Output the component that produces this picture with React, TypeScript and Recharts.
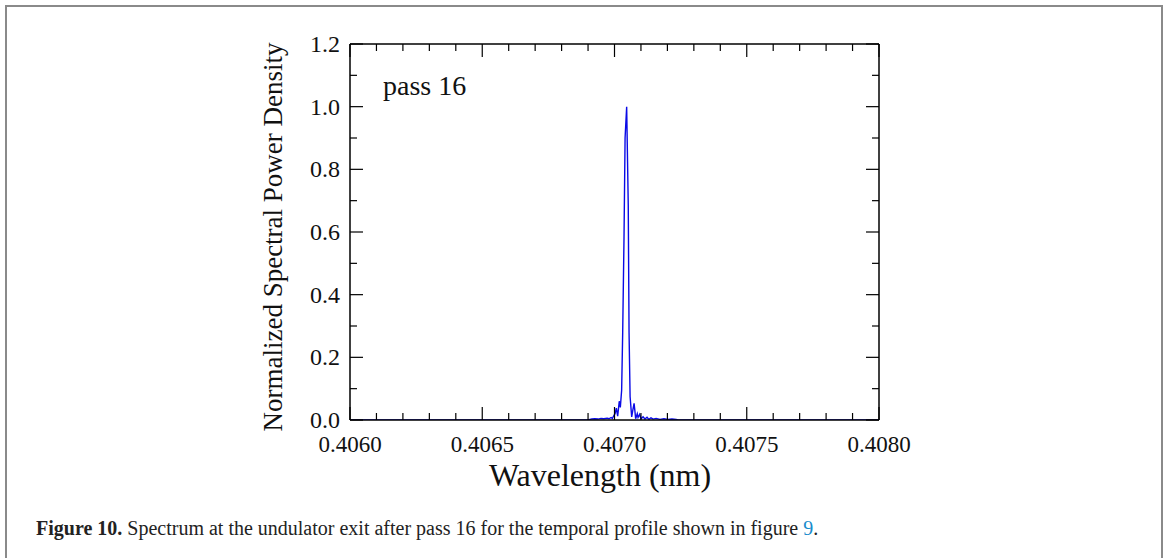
import { Line, LineChart, ReferenceLine, XAxis, YAxis } from "recharts";

// spectrum samples (pass 16)
const wavelength = [
  0.406, 0.4069, 0.406914, 0.406926, 0.406938, 0.406949, 0.40696, 0.406972,
  0.406979, 0.406987, 0.406992, 0.406996, 0.407002, 0.407007, 0.407012,
  0.407018, 0.407022, 0.407027, 0.407031, 0.407036, 0.40704, 0.407046,
  0.407052, 0.407055, 0.407059, 0.407065, 0.407069, 0.407074, 0.407077,
  0.40708, 0.407086, 0.407089, 0.407095, 0.4071, 0.407108, 0.407115,
  0.407123, 0.40713, 0.407138, 0.407146, 0.407157, 0.407172, 0.407187,
  0.407202, 0.407217, 0.407233, 0.40724, 0.408,
];
const power = [
  0, 0, 0.003, 0.004, 0.003, 0.005, 0.004, 0.006,
  0.004, 0.008, 0.005, 0.012, 0.02, 0.038, 0.012,
  0.06, 0.04, 0.095, 0.28, 0.585, 0.9, 1.0,
  0.686, 0.28, 0.074, 0.01, 0.03, 0.053, 0.03,
  0.004, 0.02, 0.008, 0.018, 0.004, 0.01, 0.003,
  0.009, 0.002, 0.007, 0.003, 0.005, 0.002, 0.004,
  0.002, 0.003, 0.002, 0, 0,
];

const xTicks = [
  0.406, 0.4061, 0.4062, 0.4063, 0.4064, 0.4065, 0.4066, 0.4067, 0.4068,
  0.4069, 0.407, 0.4071, 0.4072, 0.4073, 0.4074, 0.4075, 0.4076, 0.4077,
  0.4078, 0.4079, 0.408,
];
const yTicks = [0, 0.1, 0.2, 0.3, 0.4, 0.5, 0.6, 0.7, 0.8, 0.9, 1.0, 1.1, 1.2];

const data = wavelength.map((w, i) => ({ w, p: power[i] }));

const PLOT_LEFT = 350;
const PLOT_RIGHT = 879;
const PLOT_TOP = 44;
const PLOT_BOTTOM = 420;
const MAJOR = 13;
const MINOR = 7;
const serif = '"Liberation Serif", "Times New Roman", serif';

function XTick(props: any) {
  const { x, payload } = props;
  const idx = Math.round((payload.value - 0.406) / 0.0001);
  const major = idx % 5 === 0;
  const len = major ? MAJOR : MINOR;
  return (
    <g>
      <line x1={x} x2={x} y1={PLOT_BOTTOM} y2={PLOT_BOTTOM - len} stroke="#000" strokeWidth={1.2} />
      <line x1={x} x2={x} y1={PLOT_TOP} y2={PLOT_TOP + len} stroke="#000" strokeWidth={1.2} />
      {major && (
        <text x={x} y={PLOT_BOTTOM + 32} textAnchor="middle" fontFamily={serif} fontSize={23} fill="#111">
          {payload.value.toFixed(4)}
        </text>
      )}
    </g>
  );
}

function YTick(props: any) {
  const { y, payload } = props;
  const idx = Math.round(payload.value * 10);
  const major = idx % 2 === 0;
  const len = major ? MAJOR : MINOR;
  return (
    <g>
      <line x1={PLOT_LEFT} x2={PLOT_LEFT + len} y1={y} y2={y} stroke="#000" strokeWidth={1.2} />
      <line x1={PLOT_RIGHT} x2={PLOT_RIGHT - len} y1={y} y2={y} stroke="#000" strokeWidth={1.2} />
      {major && (
        <text x={PLOT_LEFT - 10} y={y + 8} textAnchor="end" fontFamily={serif} fontSize={24} fill="#111">
          {payload.value.toFixed(1)}
        </text>
      )}
    </g>
  );
}

export default function App() {
  return (
    <div
      style={{
        position: "absolute",
        left: 0,
        top: 0,
        width: 1165,
        height: 558,
        overflow: "hidden",
        background: "#fff",
      }}
    >
      <div
        style={{
          position: "absolute",
          left: 5,
          top: 5,
          width: 1154,
          height: 600,
          border: "2px solid #8a8a8a",
        }}
      />
      <div style={{ position: "absolute", left: 0, top: 0 }}>
        <LineChart
          width={1165}
          height={500}
          data={data}
          margin={{ top: PLOT_TOP, right: 1165 - PLOT_RIGHT, bottom: 40, left: PLOT_LEFT - 60 }}
        >
          <XAxis
            dataKey="w"
            type="number"
            domain={[0.406, 0.408]}
            ticks={xTicks}
            interval={0}
            allowDataOverflow
            height={40}
            tickLine={false}
            tickSize={0}
            axisLine={{ stroke: "#000", strokeWidth: 1.5 }}
            tick={<XTick />}
          />
          <YAxis
            type="number"
            domain={[0, 1.2]}
            ticks={yTicks}
            interval={0}
            allowDataOverflow
            width={60}
            tickLine={false}
            tickSize={0}
            axisLine={{ stroke: "#000", strokeWidth: 1.5 }}
            tick={<YTick />}
          />
          <ReferenceLine y={1.2} stroke="#000" strokeWidth={1.5} />
          <ReferenceLine x={0.408} stroke="#000" strokeWidth={1.5} />
          <Line
            dataKey="p"
            type="linear"
            stroke="#0a0ae6"
            strokeWidth={1.4}
            dot={false}
            isAnimationActive={false}
          />
        </LineChart>
      </div>
      <div
        style={{
          position: "absolute",
          left: 383,
          top: 70,
          fontFamily: serif,
          fontSize: 28,
          color: "#111",
          lineHeight: "32px",
        }}
      >
        pass 16
      </div>
      <div
        style={{
          position: "absolute",
          left: 273,
          top: 237,
          transform: "translate(-50%, -50%) rotate(-90deg)",
          fontFamily: serif,
          fontSize: 27,
          color: "#111",
          whiteSpace: "nowrap",
        }}
      >
        Normalized Spectral Power Density
      </div>
      <div
        style={{
          position: "absolute",
          left: 600,
          top: 457,
          transform: "translateX(-50%)",
          fontFamily: serif,
          fontSize: 32,
          color: "#111",
          whiteSpace: "nowrap",
          lineHeight: "36px",
        }}
      >
        Wavelength (nm)
      </div>
      <div
        style={{
          position: "absolute",
          left: 36,
          top: 516,
          fontFamily: serif,
          fontSize: 20,
          color: "#222",
          whiteSpace: "nowrap",
          lineHeight: "24px",
        }}
      >
        <b>Figure 10.</b> Spectrum at the undulator exit after pass 16 for the temporal profile shown in figure{" "}
        <span style={{ color: "#1a8ccc" }}>9</span>.
      </div>
    </div>
  );
}
